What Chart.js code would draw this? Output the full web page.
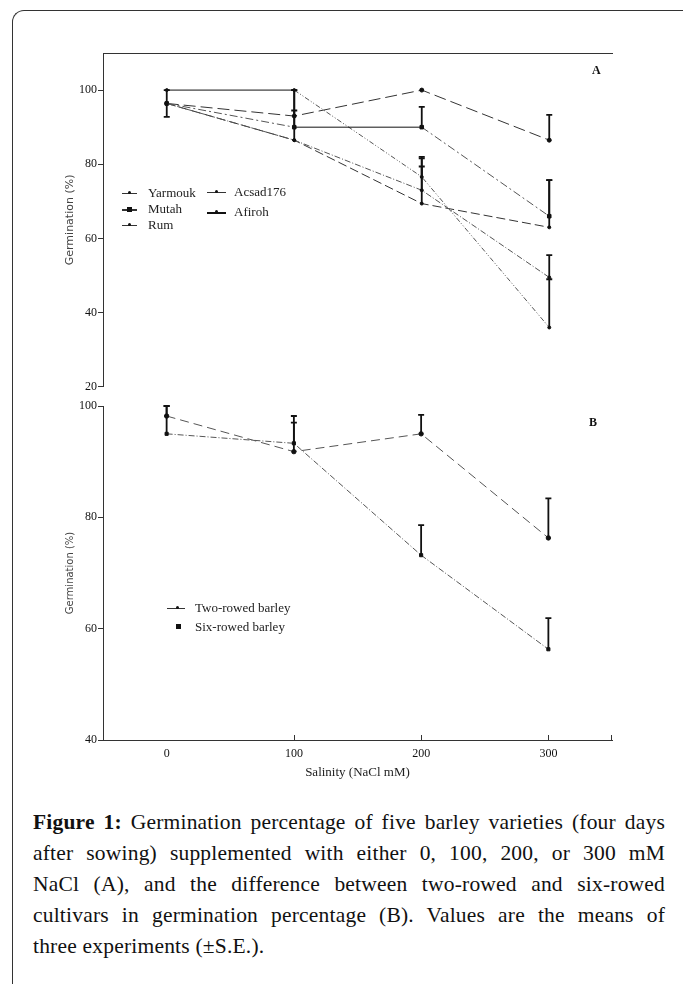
<!DOCTYPE html>
<html>
<head>
<meta charset="utf-8">
<script src="https://cdn.jsdelivr.net/npm/chart.js@4.4.1/dist/chart.umd.min.js"></script>
<style>
body { margin: 0; background: #fff; width: 683px; height: 984px; overflow: hidden; position: relative; font-family: "Liberation Serif", serif; color: #111; }
#frame { position: absolute; left: 12px; top: 10px; width: 720px; height: 1000px; border-left: 1.5px solid #333; border-top: 1.5px solid #333; border-top-left-radius: 12px; }
#wrapA { position: absolute; left: 0; top: 0; width: 683px; height: 395px; }
#wrapB { position: absolute; left: 0; top: 395px; width: 683px; height: 390px; }
.li { position: absolute; font-size: 13px; line-height: 14px; white-space: nowrap; color: #222; }
.sym { position: absolute; top: 7px; border-top: 1px solid #333; }
.dot { position: absolute; width: 3px; height: 3px; background: #111; border-radius: 50%; top: -2px; }
.sq { position: absolute; width: 5px; height: 5px; background: #111; top: -3px; }
.panel { position: absolute; font-weight: bold; font-size: 12px; }
#caption { position: absolute; left: 33px; top: 807px; width: 632px; font-size: 21.5px; line-height: 31px; letter-spacing: 0.2px; }
#caption div { text-align: justify; text-align-last: justify; white-space: nowrap; }
#caption div.last { text-align-last: left; }
</style>
</head>
<body>
<div id="frame"></div>
<div id="wrapA"><canvas id="chartA" width="683" height="395"></canvas></div>
<div id="wrapB"><canvas id="chartB" width="683" height="390"></canvas></div>
<div class="panel" style="left:592px;top:63px">A</div>
<div class="panel" style="left:589px;top:415px">B</div>
<div id="legendA"></div>
<div id="legendB"></div>
<div id="caption">
  <div><b>Figure 1:</b> Germination percentage of five barley varieties (four days</div>
  <div>after sowing) supplemented with either 0, 100, 200, or 300 mM</div>
  <div>NaCl (A), and the difference between two-rowed and six-rowed</div>
  <div>cultivars in germination percentage (B). Values are the means of</div>
  <div class="last">three experiments (±S.E.).</div>
</div>
<script>
// Salinity levels (mM NaCl)
const salinity = [0, 100, 200, 300];

// Panel A - five varieties, germination %
const yarmouk = [96.4, 86.5, 73, 49.5];
const yarmoukErr = [3.6, 8, 9, 6];
const yarmoukErrLow = [3.6, 0, 0, 0];
const mutah = [96.4, 90, 90, 66];
const mutahErr = [0, 10, 5.5, 9.7];
const rum = [100, 100, 76.6, 36];
const rumErr = [0, 0, 5, 13];
const acsad176 = [96.4, 86.5, 69.4, 63];
const acsad176Err = [0, 0, 10, 12.7];
const afiroh = [96.4, 93, 100, 86.5];
const afirohErr = [0, 7, 0, 6.8];
const yTicksA = [20, 40, 60, 80, 100];

// Panel B - two-rowed vs six-rowed
const twoRowed = [98.2, 91.8, 95, 76.3];
const twoRowedErr = [1.8, 6.4, 3.4, 7.1];
const sixRowed = [95, 93.3, 73.2, 56.3];
const sixRowedErr = [5, 3.7, 5.4, 5.6];
const yTicksB = [40, 60, 80, 100];

const SERIF = "'Liberation Serif', serif";
const pts = vals => vals.map((v, i) => ({ x: salinity[i], y: v }));

// flat segments are drawn solid, the rest keep their dash
const flatSolid = {
    borderDash: c => c.p0.parsed.y === c.p1.parsed.y ? [] : undefined,
    borderColor: c => c.p0.parsed.y === c.p1.parsed.y ? '#111' : undefined
};

// vertical S.E. bars with caps
const errorBars = {
    id: 'errorBars',
    afterDatasetsDraw(chart) {
        const { ctx, scales: { x, y } } = chart;
        ctx.save();
        ctx.strokeStyle = '#111';
        ctx.lineWidth = 1.8;
        chart.data.datasets.forEach(ds => {
            if (!ds.errUp) return;
            ds.data.forEach((p, i) => {
                const up = ds.errUp[i] || 0;
                const lo = (ds.errLow || [])[i] || 0;
                if (!up && !lo) return;
                const px = x.getPixelForValue(p.x);
                const yt = y.getPixelForValue(p.y + up);
                const yb = y.getPixelForValue(p.y - lo);
                ctx.beginPath();
                ctx.moveTo(px, yt); ctx.lineTo(px, yb);
                if (up) { ctx.moveTo(px - 3, yt); ctx.lineTo(px + 3, yt); }
                if (lo) { ctx.moveTo(px - 3, yb); ctx.lineTo(px + 3, yb); }
                ctx.stroke();
            });
        });
        ctx.restore();
    }
};

// top frame line (panel A) and small inner x ticks (panel B)
const axisDecor = {
    id: 'axisDecor',
    afterDraw(chart, args, opts) {
        const { ctx, chartArea, scales: { x } } = chart;
        ctx.save();
        ctx.strokeStyle = '#333';
        ctx.lineWidth = 1;
        ctx.beginPath();
        if (opts.top) {
            ctx.moveTo(chartArea.left, chartArea.top + 0.5);
            ctx.lineTo(chartArea.right, chartArea.top + 0.5);
        }
        if (opts.innerTicks) {
            salinity.slice(1).forEach(v => {
                const px = Math.round(x.getPixelForValue(v)) + 0.5;
                ctx.moveTo(px, chartArea.bottom);
                ctx.lineTo(px, chartArea.bottom - 5);
            });
            ctx.moveTo(chartArea.right - 0.5, chartArea.bottom);
            ctx.lineTo(chartArea.right - 0.5, chartArea.bottom - 5);
        }
        ctx.stroke();
        ctx.restore();
    }
};

function yAxis(min, max, ticks, titleText, titleSize) {
    return {
        type: 'linear', min, max,
        afterFit: s => { s.width = 45; },
        afterBuildTicks: s => { s.ticks = ticks.map(v => ({ value: v })); },
        grid: { display: true, drawOnChartArea: false, drawTicks: true, tickLength: 5, color: '#333' },
        border: { display: true, color: '#333', width: 1 },
        ticks: { padding: 1, color: '#111', font: { family: SERIF, size: 12 } },
        title: { display: true, text: titleText, color: '#444', padding: { top: 6, bottom: 0 },
                 font: { family: "'DejaVu Sans', sans-serif", size: titleSize } }
    };
}

function series(label, vals, up, style) {
    return Object.assign({
        label, data: pts(vals), errUp: up,
        borderColor: '#555', borderWidth: 1, pointRadius: 1.5,
        pointBackgroundColor: '#111', pointBorderColor: '#111', tension: 0,
        segment: flatSolid
    }, style);
}

Chart.defaults.animation = false;
Chart.defaults.font.family = SERIF;

const dsA = [
    series('Yarmouk', yarmouk, yarmoukErr, { errLow: yarmoukErrLow, borderDash: [6, 2, 1, 2] }),
    series('Mutah', mutah, mutahErr, { borderDash: [8, 3, 2, 3], pointStyle: 'rect', pointRadius: 2.5 }),
    series('Rum', rum, rumErr, { borderDash: [5, 2, 1, 2, 1, 2] }),
    series('Acsad176', acsad176, acsad176Err, { borderDash: [9, 4], borderColor: '#333' }),
    series('Afiroh', afiroh, afirohErr, { borderDash: [12, 5], borderColor: '#333', pointRadius: 2 })
];

const dsB = [
    series('Two-rowed barley', twoRowed, twoRowedErr, { borderDash: [9, 5], pointRadius: 2.2 }),
    series('Six-rowed barley', sixRowed, sixRowedErr, { borderDash: [6, 2, 1, 2], pointStyle: 'rect', pointRadius: 2.2 })
];

function drawCharts() {
    new Chart(document.getElementById('chartA'), {
        type: 'line',
        data: { datasets: dsA },
        options: {
            responsive: false,
            devicePixelRatio: 1,
            layout: { padding: { left: 58, right: 70, top: 53, bottom: 7 } },
            plugins: { legend: { display: false }, tooltip: { enabled: false }, axisDecor: { top: true } },
            scales: {
                x: { type: 'linear', min: -50, max: 350, display: false },
                y: yAxis(20, 110, yTicksA, 'Germination (%)', 11)
            }
        },
        plugins: [errorBars, axisDecor]
    });

    new Chart(document.getElementById('chartB'), {
        type: 'line',
        data: { datasets: dsB },
        options: {
            responsive: false,
            devicePixelRatio: 1,
            layout: { padding: { left: 58, right: 71, top: 11, bottom: 0 } },
            plugins: { legend: { display: false }, tooltip: { enabled: false }, axisDecor: { innerTicks: true } },
            scales: {
                x: {
                    type: 'linear', min: -50, max: 350,
                    afterFit: s => { s.height = 45; },
                    afterBuildTicks: s => { s.ticks = salinity.map(v => ({ value: v })); },
                    grid: { display: false, drawTicks: false },
                    border: { display: true, color: '#333', width: 1 },
                    ticks: { padding: 7, color: '#111', font: { family: SERIF, size: 12 } },
                    title: { display: true, text: 'Salinity (NaCl mM)', color: '#222', padding: { top: 0, bottom: 5 },
                             font: { family: SERIF, size: 13 } }
                },
                y: yAxis(40, 100, yTicksB, 'Germination (%)', 10)
            }
        },
        plugins: [errorBars, axisDecor]
    });
}

// HTML legends
function legendItem(parent, label, x, y, opts) {
    const d = document.createElement('div');
    d.className = 'li';
    d.style.left = x + 'px';
    d.style.top = (y - 7) + 'px';
    d.style.paddingLeft = opts.textOffset + 'px';
    if (opts.line) {
        const s = document.createElement('i');
        s.className = 'sym';
        s.style.left = '0px';
        s.style.width = opts.line + 'px';
        s.style.borderTopWidth = (opts.thick || 1) + 'px';
        s.style.borderTopColor = opts.lineColor || '#333';
        d.appendChild(s);
    }
    const m = document.createElement('i');
    m.className = opts.marker;
    m.style.left = opts.markerX + 'px';
    m.style.top = opts.line ? '5px' : '4px';
    d.appendChild(m);
    d.appendChild(document.createTextNode(label));
    parent.appendChild(d);
}

const legA = document.getElementById('legendA');
legendItem(legA, dsA[0].label, 122, 193, { textOffset: 26, line: 15, marker: 'dot', markerX: 6 });
legendItem(legA, dsA[1].label, 122, 209, { textOffset: 26, line: 15, thick: 2, marker: 'sq', markerX: 5 });
legendItem(legA, dsA[2].label, 122, 225, { textOffset: 26, line: 15, marker: 'dot', markerX: 6 });
legendItem(legA, dsA[3].label, 207, 192, { textOffset: 27, line: 19, marker: 'dot', markerX: 8 });
legendItem(legA, dsA[4].label, 207, 212, { textOffset: 27, line: 19, thick: 2, lineColor: '#111', marker: 'dot', markerX: 8 });

const legB = document.getElementById('legendB');
legendItem(legB, dsB[0].label, 167, 608, { textOffset: 28, line: 18, marker: 'dot', markerX: 9 });
legendItem(legB, dsB[1].label, 167, 627, { textOffset: 28, line: 0, marker: 'sq', markerX: 9 });

// make sure the serif face is ready before the canvases draw text
Promise.all([
    document.fonts.load("12px 'Liberation Serif'"),
    document.fonts.load("11px 'DejaVu Sans'")
]).then(drawCharts, drawCharts);
</script>
</body>
</html>
